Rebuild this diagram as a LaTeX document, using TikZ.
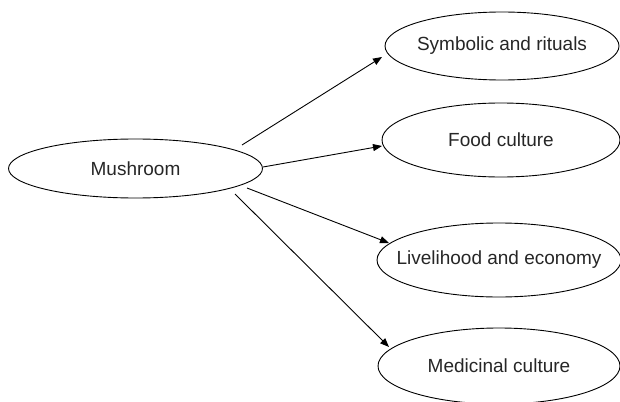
\documentclass[tikz,border=0pt]{standalone}
\usepackage{fontspec}
\setmainfont{Liberation Sans}
\usetikzlibrary{shapes.geometric,arrows.meta}
\newcommand{\zw}[1]{\makebox[0pt]{#1}}
\begin{document}
\begin{tikzpicture}[x=1pt,y=-1pt,
  oval/.style={draw=black,line width=0.9pt,ellipse,inner sep=0pt,
    text=black!85,font=\fontsize{19}{22}\selectfont},
  link/.style={draw=black,line width=0.9pt,-{Triangle[length=9pt,width=7pt]}}]
\useasboundingbox (0,0) rectangle (620,401);
\node[oval,minimum width=254pt,minimum height=59pt] (m) at (135.5,168.5) {\zw{Mushroom}};
\node[oval,minimum width=234pt,minimum height=68pt] (s) at (502,46) {\zw{Symbolic and rituals}};
\node[oval,minimum width=238pt,minimum height=74pt] (f) at (501,140) {\zw{Food culture}};
\node[oval,minimum width=244pt,minimum height=74pt] (l) at (499,260) {\zw{Livelihood and economy}};
\node[oval,minimum width=242pt,minimum height=76pt] (d) at (499,366) {\zw{Medicinal culture}};
\coordinate (m1) at (242,145);
\coordinate (m2) at (263,167);
\coordinate (m3) at (247,188);
\coordinate (m4) at (235,194);
\coordinate (s1) at (382,57);
\coordinate (f1) at (382,146);
\coordinate (l1) at (389,243);
\coordinate (d1) at (389,347);
\draw[link] (m1) -- (s1);
\draw[link] (m2) -- (f1);
\draw[link] (m3) -- (l1);
\draw[link] (m4) -- (d1);
\end{tikzpicture}
\end{document}
